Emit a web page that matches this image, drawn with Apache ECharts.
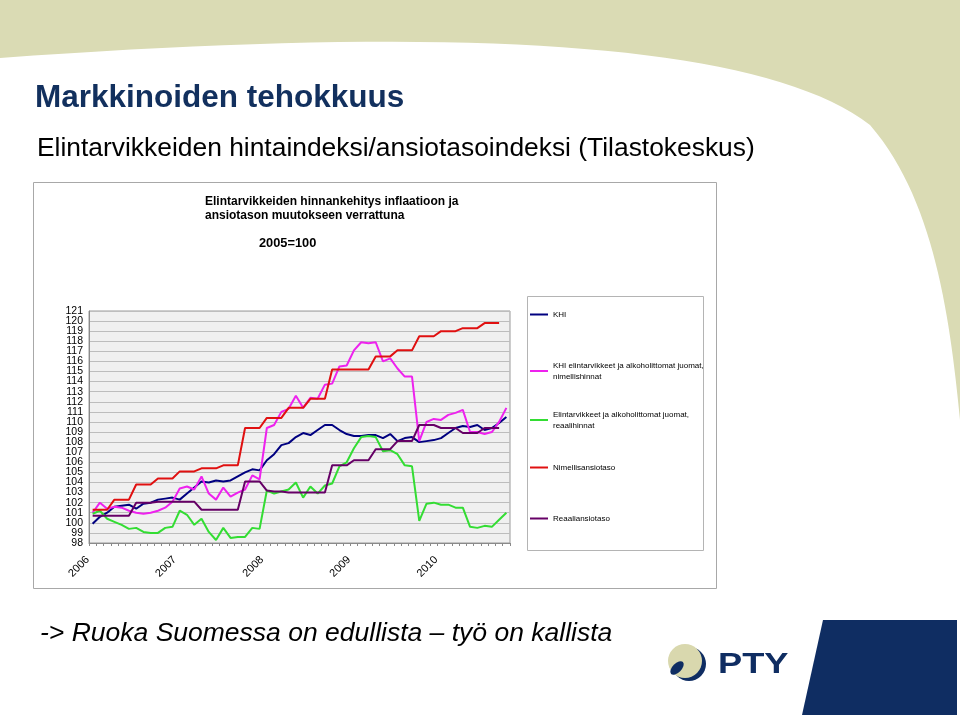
<!DOCTYPE html>
<html>
<head>
<meta charset="utf-8">
<script src="https://cdn.jsdelivr.net/npm/echarts@6/dist/echarts.min.js"></script>
<style>
html,body{margin:0;padding:0;background:#fff;}
#c{width:960px;height:717px;}
</style>
</head>
<body>
<div id="c"></div>
<script>
const categories = [
 '2006-01','2006-02','2006-03','2006-04','2006-05','2006-06','2006-07','2006-08','2006-09','2006-10','2006-11','2006-12',
 '2007-01','2007-02','2007-03','2007-04','2007-05','2007-06','2007-07','2007-08','2007-09','2007-10','2007-11','2007-12',
 '2008-01','2008-02','2008-03','2008-04','2008-05','2008-06','2008-07','2008-08','2008-09','2008-10','2008-11','2008-12',
 '2009-01','2009-02','2009-03','2009-04','2009-05','2009-06','2009-07','2009-08','2009-09','2009-10','2009-11','2009-12',
 '2010-01','2010-02','2010-03','2010-04','2010-05','2010-06','2010-07','2010-08','2010-09','2010-10'
];
const yearLabels = ['2006','2007','2008','2009','2010'];
const seriesNames = [
 'KHI',
 'KHI elintarvikkeet ja alkoholittomat juomat, nimellishinnat',
 'Elintarvikkeet ja alkoholittomat juomat, reaalihinnat',
 'Nimellisansiotaso',
 'Reaaliansiotaso'
];
const khi = [99.9,100.6,101.0,101.6,101.7,101.8,101.4,101.9,102.0,102.3,
 102.4,102.5,102.3,102.9,103.5,104.1,104.0,104.2,104.1,104.2,
 104.6,105.0,105.3,105.2,106.2,106.8,107.7,107.9,108.5,108.9,
 108.7,109.2,109.7,109.7,109.2,108.8,108.6,108.6,108.7,108.7,
 108.4,108.8,108.1,108.4,108.5,108.0,108.1,108.2,108.4,108.9,
 109.4,109.6,109.5,109.7,109.2,109.4,109.9,110.5];
const foodNominal = [101.0,102.0,101.4,101.6,101.5,101.2,101.0,100.9,101.0,101.2,
 101.5,102.1,103.4,103.6,103.3,104.6,102.9,102.3,103.5,102.6,
 103.0,103.3,104.7,104.3,109.4,109.7,111.0,111.3,112.6,111.4,
 112.4,112.3,113.7,113.8,115.5,115.6,117.1,117.9,117.8,117.9,
 116.0,116.3,115.3,114.5,114.5,108.1,110.0,110.3,110.2,110.7,
 110.9,111.2,109.0,109.0,108.8,109.0,110.0,111.4];
const foodReal = [100.9,101.2,100.4,100.1,99.8,99.4,99.5,99.1,99.0,99.0,
 99.5,99.6,101.2,100.8,99.8,100.4,99.1,98.3,99.5,98.5,
 98.6,98.6,99.5,99.4,103.2,102.9,103.1,103.3,104.0,102.5,
 103.6,102.9,103.7,103.9,105.6,106.0,107.4,108.5,108.6,108.5,
 107.1,107.2,106.8,105.7,105.6,100.2,101.9,102.0,101.8,101.8,
 101.5,101.5,99.6,99.5,99.7,99.6,100.3,101.0];
const nominalWages = [101.3,101.3,101.3,102.3,102.3,102.3,103.8,103.8,103.8,104.4,
 104.4,104.4,105.1,105.1,105.1,105.4,105.4,105.4,105.7,105.7,
 105.7,109.4,109.4,109.4,110.4,110.4,110.4,111.4,111.4,111.4,
 112.3,112.3,112.3,115.2,115.2,115.2,115.2,115.2,115.2,116.5,
 116.5,116.5,117.1,117.1,117.1,118.5,118.5,118.5,119.0,119.0,
 119.0,119.3,119.3,119.3,119.8,119.8,119.8];
const realWages = [100.7,100.7,100.7,100.7,100.7,100.7,102.0,102.0,102.0,102.1,
 102.1,102.1,102.1,102.1,102.1,101.3,101.3,101.3,101.3,101.3,
 101.3,104.1,104.1,104.1,103.2,103.1,103.1,103.0,103.0,103.0,
 103.0,103.0,103.0,105.7,105.7,105.7,106.2,106.2,106.2,107.3,
 107.3,107.3,108.1,108.1,108.1,109.7,109.7,109.7,109.4,109.4,
 109.4,108.9,108.9,108.9,109.4,109.4,109.4];

const colors = ['#000080','#ee22ee','#33dd33','#e01010','#660066'];
const FONT = '"Liberation Sans", Arial, Helvetica, sans-serif';
const chart = echarts.init(document.getElementById('c'), null, {renderer:'canvas'});

const legendTops = [309, 360, 409, 462, 513];
const legendText = {};
legendText[seriesNames[1]] = 'KHI elintarvikkeet ja alkoholittomat juomat,\nnimellishinnat';
legendText[seriesNames[2]] = 'Elintarvikkeet ja alkoholittomat juomat,\nreaalihinnat';
const legends = seriesNames.map((n,i)=>({
  data:[n], left:530, top:legendTops[i], orient:'vertical', padding:0,
  icon:'rect', itemWidth:18, itemHeight:2,
  formatter: nm => legendText[nm] || nm,
  textStyle:{fontSize:8, color:'#000', fontFamily:FONT, lineHeight:11}
}));

// decorative beige swoosh outline (cubic bezier sampled into polygon)
function bez(p0,p1,p2,p3,n){
  const pts=[];
  for(let k=0;k<=n;k++){const t=k/n,u=1-t;
    pts.push([u*u*u*p0[0]+3*u*u*t*p1[0]+3*u*t*t*p2[0]+t*t*t*p3[0],
              u*u*u*p0[1]+3*u*u*t*p1[1]+3*u*t*t*p2[1]+t*t*t*p3[1]]);}
  return pts;
}
const swoosh = [[0,0],[960,0],[960,420]]
  .concat(bez([960,420],[950,320],[935,200],[870,125],30))
  .concat(bez([870,125],[760,40],[450,25],[0,58],40));

const seriesData = [khi, foodNominal, foodReal, nominalWages, realWages];

function yAxisDef(parity, main){
  return {type:'value', position:'left', offset:0, min:98, max:121, interval:1,
    axisLine:{show:main, lineStyle:{color:'#8a8a8a'}},
    axisTick:{show:false},
    axisLabel:{fontSize:10.5, color:'#000', margin:6, fontFamily:FONT,
      showMinLabel:true, showMaxLabel:true,
      formatter: v => (Math.round(v) % 2 === parity) ? String(v) : ''},
    splitLine:{show:main, lineStyle:{color:'#bdbdbd', width:1}}};
}

chart.setOption({
  animation:false,
  textStyle:{fontFamily:FONT},
  title:[
    {text:'Markkinoiden tehokkuus', left:35, top:82, padding:0,
     textStyle:{fontSize:31.5, fontWeight:'bold', color:'#12305e', fontFamily:FONT}},
    {text:'Elintarvikkeiden hintaindeksi/ansiotasoindeksi (Tilastokeskus)', left:37, top:136, padding:0,
     textStyle:{fontSize:26.4, fontWeight:'normal', color:'#000', fontFamily:FONT}},
    {text:'Elintarvikkeiden hinnankehitys inflaatioon ja\nansiotason muutokseen verrattuna', left:205, top:195, padding:0,
     textStyle:{fontSize:12, fontWeight:'bold', color:'#000', lineHeight:14, fontFamily:FONT}},
    {text:'2005=100', left:259, top:237, padding:0,
     textStyle:{fontSize:12.8, fontWeight:'bold', color:'#000', fontFamily:FONT}},
    {text:'-> Ruoka Suomessa on edullista \u2013 ty\u00f6 on kallista', left:40, top:620, padding:0,
     textStyle:{fontSize:26.5, fontWeight:'normal', fontStyle:'italic', color:'#000', fontFamily:FONT}}
  ],
  legend: legends,
  graphic:[
    {type:'polygon', z:-20, silent:true, shape:{points:swoosh}, style:{fill:'#dadbb4'}},
    {type:'rect', z:-10, silent:true, shape:{x:33.5,y:182.5,width:683,height:406},
     style:{fill:'#fff', stroke:'#a8a8a8', lineWidth:1}},
    {type:'rect', z:-5, silent:true, shape:{x:527.5,y:296.5,width:176,height:254},
     style:{fill:'none', stroke:'#b4b4b4', lineWidth:1}},
    {type:'polygon', z:-5, silent:true, shape:{points:[[823,620],[957,620],[957,715],[802,715]]},
     style:{fill:'#0f2d62'}},
    {type:'circle', z:-5, silent:true, shape:{cx:689,cy:664,r:17}, style:{fill:'#0f2d62'}},
    {type:'circle', z:-4, silent:true, shape:{cx:685,cy:661,r:17}, style:{fill:'#d9d8ae'}},
    {type:'circle', z:-3, silent:true, shape:{cx:0,cy:0,r:6}, x:677, y:668, scaleX:1.4, scaleY:0.75,
     rotation:Math.PI/4, style:{fill:'#0f2d62'}},
    {type:'text', z:-3, silent:true, x:718, y:650, scaleX:1.25,
     style:{text:'PTY', fontSize:29, fontWeight:'bold', fill:'#0f2d62', fontFamily:FONT}}
  ],
  grid:{left:89, top:311, width:421, height:232, show:true, backgroundColor:'#f0f0f0',
        borderColor:'#9a9a9a', borderWidth:1, containLabel:false},
  xAxis:{type:'category', data:categories, boundaryGap:true,
    axisLine:{lineStyle:{color:'#8a8a8a', width:1}},
    axisTick:{show:true, interval:0, length:3, lineStyle:{color:'#8a8a8a'}},
    axisLabel:{interval:0, rotate:45, margin:10, fontSize:11, color:'#000', fontFamily:FONT,
      formatter:(v,idx)=> idx%12===0 ? '{y|' + yearLabels[idx/12] + '}' : '',
      rich:{y:{fontSize:11, color:'#000', fontFamily:FONT, padding:[0,7,0,0]}}},
    splitLine:{show:false}},
  yAxis:[yAxisDef(0, true), yAxisDef(1, false)],
  series: seriesNames.map((n,i)=>({
    name:n, type:'line', data:seriesData[i], yAxisIndex:0, symbol:'none', smooth:false,
    lineStyle:{width:2, color:colors[i]}, itemStyle:{color:colors[i]}
  }))
});
</script>
</body>
</html>
